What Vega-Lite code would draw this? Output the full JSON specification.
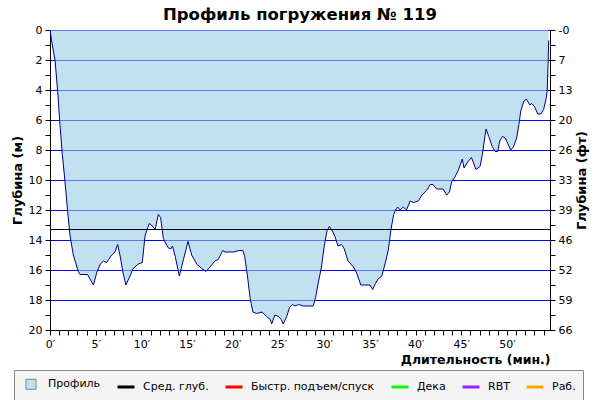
{
  "$schema": "https://vega.github.io/schema/vega-lite/v6.json",
  "width": 500,
  "height": 300,
  "autosize": {"type": "none"},
  "padding": {"left": 50, "top": 30, "right": 50, "bottom": 70},
  "background": "white",
  "title": {"text": "Профиль погружения № 119", "font": "DejaVu Sans", "fontSize": 16.5, "fontWeight": "bold", "color": "black", "anchor": "middle", "offset": 1},
  "datasets": {
    "profile": [
      {"t": 0, "depth": 0}, {"t": 0.25, "depth": 1.0}, {"t": 0.55, "depth": 2.0}, {"t": 0.84, "depth": 4.1},
      {"t": 1.09, "depth": 6.3}, {"t": 1.35, "depth": 8.3}, {"t": 1.64, "depth": 10.1}, {"t": 1.93, "depth": 12.1},
      {"t": 2.19, "depth": 13.7}, {"t": 2.55, "depth": 15.0}, {"t": 3.1, "depth": 16.1}, {"t": 3.3, "depth": 16.3},
      {"t": 4.1, "depth": 16.3}, {"t": 4.75, "depth": 17.0}, {"t": 5.1, "depth": 16.2}, {"t": 5.5, "depth": 15.6},
      {"t": 5.85, "depth": 15.4}, {"t": 6.2, "depth": 15.5}, {"t": 6.75, "depth": 15.0}, {"t": 7.1, "depth": 14.8},
      {"t": 7.4, "depth": 14.3}, {"t": 7.65, "depth": 15.0}, {"t": 8.0, "depth": 16.2}, {"t": 8.3, "depth": 17.0},
      {"t": 8.75, "depth": 16.4}, {"t": 9.1, "depth": 15.9}, {"t": 9.65, "depth": 15.6}, {"t": 10.1, "depth": 15.5},
      {"t": 10.4, "depth": 13.7}, {"t": 10.85, "depth": 12.9}, {"t": 11.1, "depth": 13.0}, {"t": 11.5, "depth": 13.3},
      {"t": 11.85, "depth": 12.3}, {"t": 12.1, "depth": 12.5}, {"t": 12.4, "depth": 13.9}, {"t": 12.9, "depth": 14.5},
      {"t": 13.2, "depth": 14.6}, {"t": 13.4, "depth": 14.4}, {"t": 13.7, "depth": 15.1}, {"t": 14.15, "depth": 16.4},
      {"t": 14.6, "depth": 15.3}, {"t": 15.1, "depth": 14.1}, {"t": 15.5, "depth": 15.0}, {"t": 16.05, "depth": 15.6},
      {"t": 16.6, "depth": 15.9}, {"t": 17.07, "depth": 16.1}, {"t": 17.5, "depth": 15.8}, {"t": 18.05, "depth": 15.4},
      {"t": 18.4, "depth": 15.3}, {"t": 18.9, "depth": 14.7}, {"t": 19.15, "depth": 14.8}, {"t": 20.05, "depth": 14.8},
      {"t": 20.7, "depth": 14.7}, {"t": 21.1, "depth": 14.7}, {"t": 21.3, "depth": 15.1}, {"t": 21.6, "depth": 16.4},
      {"t": 21.9, "depth": 17.9}, {"t": 22.2, "depth": 18.8}, {"t": 22.6, "depth": 18.9}, {"t": 23.2, "depth": 18.8},
      {"t": 23.7, "depth": 19.1}, {"t": 24.1, "depth": 19.3}, {"t": 24.25, "depth": 19.6}, {"t": 24.6, "depth": 19.0},
      {"t": 25.0, "depth": 19.1}, {"t": 25.3, "depth": 19.3}, {"t": 25.5, "depth": 19.6}, {"t": 25.9, "depth": 19.1},
      {"t": 26.2, "depth": 18.5}, {"t": 26.55, "depth": 18.3}, {"t": 26.8, "depth": 18.4}, {"t": 27.2, "depth": 18.3},
      {"t": 27.7, "depth": 18.4}, {"t": 28.3, "depth": 18.4}, {"t": 28.8, "depth": 18.4}, {"t": 29.07, "depth": 17.8},
      {"t": 29.3, "depth": 17.0}, {"t": 29.5, "depth": 16.4}, {"t": 29.7, "depth": 15.8}, {"t": 30.0, "depth": 14.4},
      {"t": 30.3, "depth": 13.4}, {"t": 30.56, "depth": 13.1}, {"t": 30.9, "depth": 13.4}, {"t": 31.2, "depth": 13.8},
      {"t": 31.5, "depth": 14.4}, {"t": 31.9, "depth": 14.3}, {"t": 32.2, "depth": 14.6}, {"t": 32.6, "depth": 15.4},
      {"t": 33.2, "depth": 15.8}, {"t": 33.55, "depth": 16.2}, {"t": 34.0, "depth": 17.0}, {"t": 35.0, "depth": 17.0},
      {"t": 35.3, "depth": 17.3}, {"t": 35.6, "depth": 16.9}, {"t": 35.9, "depth": 16.6}, {"t": 36.3, "depth": 16.4},
      {"t": 36.65, "depth": 15.6}, {"t": 37.0, "depth": 14.7}, {"t": 37.3, "depth": 13.3}, {"t": 37.6, "depth": 12.3},
      {"t": 37.8, "depth": 12.0}, {"t": 38.04, "depth": 11.8}, {"t": 38.3, "depth": 12.0}, {"t": 38.65, "depth": 11.8},
      {"t": 39.0, "depth": 12.0}, {"t": 39.4, "depth": 11.4}, {"t": 39.75, "depth": 11.5}, {"t": 40.3, "depth": 11.4},
      {"t": 40.7, "depth": 11.0}, {"t": 41.2, "depth": 10.7}, {"t": 41.6, "depth": 10.3}, {"t": 41.9, "depth": 10.3},
      {"t": 42.3, "depth": 10.6}, {"t": 43.0, "depth": 10.6}, {"t": 43.4, "depth": 11.0}, {"t": 43.7, "depth": 10.8},
      {"t": 43.95, "depth": 10.1}, {"t": 44.3, "depth": 9.8}, {"t": 44.7, "depth": 9.3}, {"t": 45.1, "depth": 8.6},
      {"t": 45.3, "depth": 9.2}, {"t": 45.7, "depth": 8.8}, {"t": 46.1, "depth": 8.5}, {"t": 46.3, "depth": 8.8},
      {"t": 46.6, "depth": 9.3}, {"t": 47.05, "depth": 9.1}, {"t": 47.3, "depth": 8.3}, {"t": 47.7, "depth": 6.6},
      {"t": 48.0, "depth": 7.1}, {"t": 48.4, "depth": 7.8}, {"t": 48.7, "depth": 8.1}, {"t": 48.98, "depth": 8.1},
      {"t": 49.2, "depth": 7.4}, {"t": 49.5, "depth": 7.1}, {"t": 49.8, "depth": 7.2}, {"t": 50.1, "depth": 7.6},
      {"t": 50.4, "depth": 8.0}, {"t": 50.7, "depth": 7.8}, {"t": 51.05, "depth": 7.2}, {"t": 51.3, "depth": 6.3},
      {"t": 51.5, "depth": 5.4}, {"t": 51.8, "depth": 4.8}, {"t": 52.1, "depth": 4.6}, {"t": 52.5, "depth": 5.0},
      {"t": 52.7, "depth": 4.9}, {"t": 53.0, "depth": 5.1}, {"t": 53.35, "depth": 5.6}, {"t": 53.7, "depth": 5.6},
      {"t": 54.0, "depth": 5.3}, {"t": 54.3, "depth": 4.5}, {"t": 54.4, "depth": 4.0}, {"t": 54.5, "depth": 2.0},
      {"t": 54.55, "depth": 0.7}
    ],
    "avg": [{"avg_depth": 13.3}],
    "legendItems": [
      {"item": "Профиль"}, {"item": "Сред. глуб."}, {"item": "Быстр. подъем/спуск"},
      {"item": "Дека"}, {"item": "RBT"}, {"item": "Раб."}
    ]
  },
  "layer": [
    {
      "data": {"name": "profile"},
      "mark": {"type": "area", "fill": "#98cde8", "fillOpacity": 0.6, "line": {"stroke": "#000080", "strokeWidth": 1}},
      "encoding": {
        "x": {
          "field": "t", "type": "quantitative",
          "scale": {"domain": [0, 54.7], "nice": false, "zero": false},
          "axis": {
            "values": [0,1,2,3,4,5,6,7,8,9,10,11,12,13,14,15,16,17,18,19,20,21,22,23,24,25,26,27,28,29,30,31,32,33,34,35,36,37,38,39,40,41,42,43,44,45,46,47,48,49,50,51,52,53,54],
            "labelExpr": "datum.value % 5 === 0 ? datum.value + '′' : ''",
            "labelOverlap": false,
            "labelBound": false,
            "title": "Длительность (мин.)",
            "titleFontSize": 12.5,
            "titleAnchor": "end",
            "titleAlign": "right",
            "grid": false
          }
        },
        "y": {
          "field": "depth", "type": "quantitative",
          "scale": {"domain": [0, 20], "reverse": true, "nice": false, "zero": false},
          "axis": {
            "orient": "left",
            "values": [0,1,2,3,4,5,6,7,8,9,10,11,12,13,14,15,16,17,18,19,20],
            "labelExpr": "datum.value % 2 === 0 ? datum.label : ''",
            "labelOverlap": false,
            "title": "Глубина (м)",
            "grid": true,
            "gridColor": "#0000ff",
            "gridWidth": 1,
            "gridOpacity": {"condition": {"test": "datum.value % 2 === 0 && datum.value < 20", "value": 1}, "value": 0}
          }
        }
      }
    },
    {
      "data": {"name": "avg"},
      "mark": {"type": "rule", "color": "black", "strokeWidth": 1},
      "encoding": {
        "y": {
          "field": "avg_depth", "type": "quantitative",
          "axis": {
            "orient": "right",
            "values": [0,1,2,3,4,5,6,7,8,9,10,11,12,13,14,15,16,17,18,19,20],
            "labelExpr": "datum.value === 0 ? '-0' : (datum.value % 2 === 0 ? format(datum.value * 3.28084, '.0f') : '')",
            "labelOverlap": false,
            "title": "Глубина (фт)",
            "titleAngle": 270,
            "titleBaseline": "top",
            "grid": false
          }
        }
      }
    },
    {
      "data": {"name": "legendItems"},
      "mark": {"type": "point", "filled": true, "clip": true, "opacity": 1},
      "encoding": {
        "y": {"datum": -10, "type": "quantitative", "axis": null},
        "fill": {
          "field": "item", "type": "nominal",
          "scale": {"domain": ["Профиль", "Сред. глуб.", "Быстр. подъем/спуск", "Дека", "RBT", "Раб."], "range": ["#c0e1f1", "transparent", "transparent", "transparent", "transparent", "transparent"]},
          "legend": {"title": null}
        },
        "stroke": {
          "field": "item", "type": "nominal",
          "scale": {"domain": ["Профиль", "Сред. глуб.", "Быстр. подъем/спуск", "Дека", "RBT", "Раб."], "range": ["#808080", "#000000", "#ff0000", "#00ff00", "#a020f0", "#ffa500"]},
          "legend": {"title": null}
        },
        "shape": {
          "field": "item", "type": "nominal",
          "scale": {"domain": ["Профиль", "Сред. глуб.", "Быстр. подъем/спуск", "Дека", "RBT", "Раб."], "range": ["square", "stroke", "stroke", "stroke", "stroke", "stroke"]},
          "legend": {"title": null}
        },
        "strokeWidth": {
          "field": "item", "type": "nominal",
          "scale": {"type": "ordinal", "domain": ["Профиль", "Сред. глуб.", "Быстр. подъем/спуск", "Дека", "RBT", "Раб."], "range": [1, 3, 3, 3, 3, 3]},
          "legend": {"title": null}
        },
        "size": {
          "field": "item", "type": "nominal",
          "scale": {"type": "ordinal", "domain": ["Профиль", "Сред. глуб.", "Быстр. подъем/спуск", "Дека", "RBT", "Раб."], "range": [100, 289, 289, 289, 289, 289]},
          "legend": {"title": null}
        }
      }
    }
  ],
  "resolve": {"axis": {"y": "independent"}},
  "config": {
    "view": {"stroke": null},
    "font": "DejaVu Sans",
    "axis": {
      "labelFont": "DejaVu Sans", "labelFontSize": 11, "labelColor": "black",
      "titleFont": "DejaVu Sans", "titleFontSize": 13, "titleFontWeight": "bold", "titleColor": "black",
      "domainColor": "black", "tickColor": "black", "tickSize": 5, "labelPadding": 3, "grid": false, "labelFlush": false, "labelOverlap": false
    },
    "legend": {
      "orient": "none", "legendX": -36, "legendY": 340, "direction": "horizontal", "columns": 6,
      "fillColor": "#f4f4f4", "strokeColor": "#888888", "padding": 7,
      "labelFont": "DejaVu Sans", "labelFontSize": 11, "labelColor": "black", "labelOffset": 7,
      "symbolSize": 289, "columnPadding": 10, "symbolStrokeWidth": 3, "symbolOpacity": 1
    }
  }
}
